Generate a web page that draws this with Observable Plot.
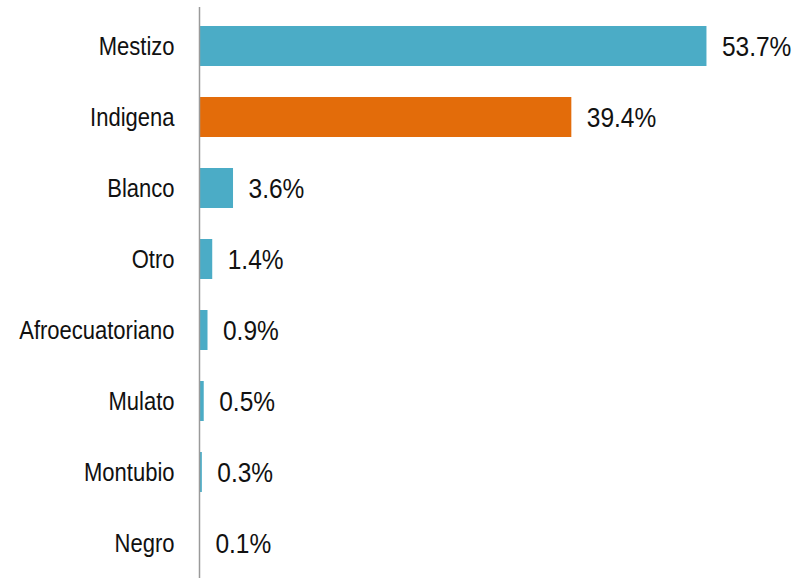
<!DOCTYPE html>
<html>
<head>
<meta charset="utf-8">
<script src="https://cdn.jsdelivr.net/npm/d3@7"></script>
<script src="https://cdn.jsdelivr.net/npm/@observablehq/plot@0.6"></script>
<style>
  html, body { margin: 0; padding: 0; background: #fff; }
  #chart svg { display: block; }
</style>
</head>
<body>
<div id="chart"></div>
<script>
const categories = ["Mestizo", "Indigena", "Blanco", "Otro", "Afroecuatoriano", "Mulato", "Montubio", "Negro"];
const values = [53.7, 39.4, 3.6, 1.4, 0.9, 0.5, 0.3, 0.1];
const highlight = "Indigena";

const data = categories.map((c, i) => ({category: c, value: values[i]}));

const chart = Plot.plot({
  width: 796,
  height: 578,
  marginLeft: 199,
  marginRight: 30,
  marginTop: 11,
  marginBottom: 0,
  style: {fontFamily: "Liberation Sans, Arial, sans-serif", background: "#fff"},
  x: {domain: [0, 60], axis: null},
  y: {domain: categories, paddingInner: 0.434, paddingOuter: 0.178, label: null, tickSize: 0, tickPadding: 25},
  marks: [
    Plot.axisY({tickSize: 0, tickPadding: 25, fontSize: 22, color: "#111", label: null}),
    Plot.barX(data, {
      x: "value",
      y: "category",
      fill: d => d.category === highlight ? "#E36C0A" : "#4BACC6"
    }),
    Plot.text(data, {
      x: "value",
      y: "category",
      text: d => d.value.toFixed(1) + "%",
      textAnchor: "start",
      dx: 15,
      fontSize: 24.5,
      fill: "#111"
    }),
    Plot.ruleX([0], {stroke: "#9a9a9a", strokeWidth: 1.5, insetTop: -4})
  ]
});

chart.querySelectorAll("text").forEach(el => {
  const t = el.getAttribute("transform") || "";
  el.setAttribute("transform", (t + " scale(1,1.16)").trim());
});

document.getElementById("chart").appendChild(chart);
</script>
</body>
</html>
